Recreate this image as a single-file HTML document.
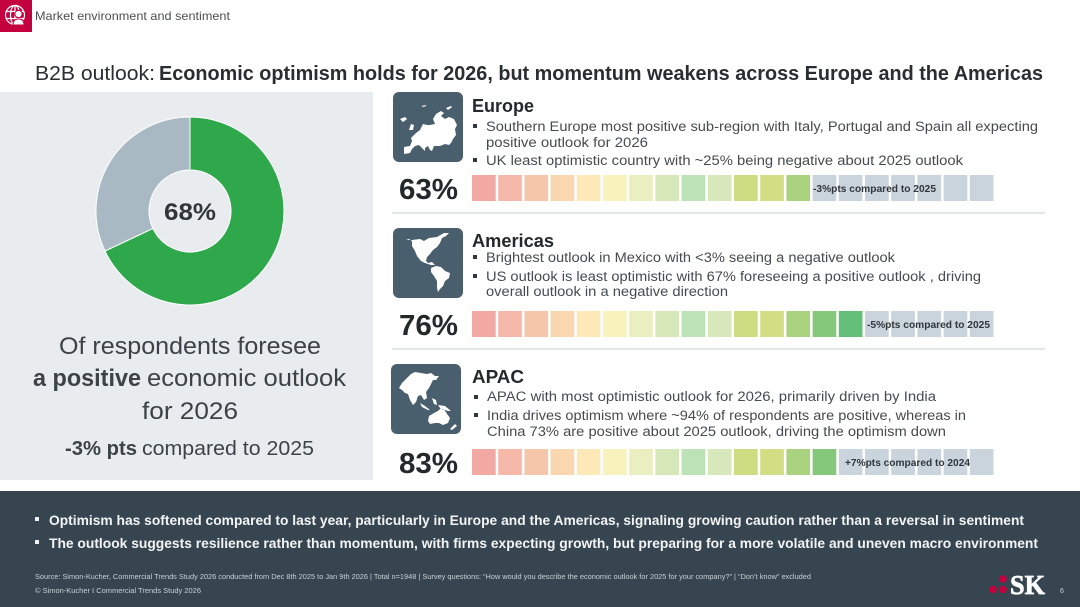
<!DOCTYPE html>
<html lang="en">
<head>
<meta charset="utf-8">
<title>B2B outlook</title>
<style>
html,body{margin:0;padding:0;background:#fff;width:1080px;height:607px;overflow:hidden}
svg{display:block}
text{font-family:"Liberation Sans",sans-serif}
.b{font-weight:700}
.body{font-size:13.5px;fill:#454b50}
.head{font-size:18px;font-weight:700;fill:#23282b}
.pct{font-size:29px;font-weight:700;fill:#23282b}
.lab{font-size:10.5px;font-weight:700;fill:#30373c}
.big{font-size:24px;fill:#3c4347}
.band{font-size:14px;font-weight:700;fill:#f2f4f5}
.fine{font-size:7px;fill:#c9d0d5}
</style>
</head>
<body>
<svg id="slide" width="1080" height="607" viewBox="0 0 1080 607" xmlns="http://www.w3.org/2000/svg">
  <rect width="1080" height="607" fill="#fff"/>

  <g>
    <rect width="32" height="32" fill="#c5003e"/>
    <g fill="none" stroke="#fff" stroke-width="1.2">
      <circle cx="15" cy="15" r="9.5"/>
      <ellipse cx="15" cy="15" rx="4.5" ry="9.5"/>
      <path d="M6 11.5H24M6 18.5H24M15 5.5V24.5"/>
    </g>
    <circle cx="18.500" cy="14" r="3.600" fill="#fff" stroke="#c5003e"/>
    <path d="M13 25Q13 19 18.500 19Q24 19 24 25Z" fill="#fff" stroke="#c5003e"/>
  </g>
  <text x="35" y="20" font-size="12" fill="#4a4f53" textLength="195" lengthAdjust="spacingAndGlyphs">Market environment and sentiment</text>

  <g font-size="20" fill="#2a2e31">
    <text x="35" y="80" textLength="120" lengthAdjust="spacingAndGlyphs">B2B outlook:</text>
    <text class="b" x="159" y="80" textLength="884" lengthAdjust="spacingAndGlyphs">Economic optimism holds for 2026, but momentum weakens across Europe and the Americas</text>
  </g>

  <rect x="0" y="92" width="373" height="388" fill="#e9ecef"/>
  <g id="donut"></g>
  <text id="donut-label" x="190" y="220" font-size="24" font-weight="700" text-anchor="middle" fill="#30363a" textLength="52" lengthAdjust="spacingAndGlyphs"></text>

  <g>
    <text class="big" x="59" y="354" textLength="262" lengthAdjust="spacingAndGlyphs">Of respondents foresee</text>
    <text class="big b" x="33" y="386" textLength="108" lengthAdjust="spacingAndGlyphs">a positive</text>
    <text class="big" x="147" y="386" textLength="199" lengthAdjust="spacingAndGlyphs">economic outlook</text>
    <text class="big" x="142" y="419" textLength="96" lengthAdjust="spacingAndGlyphs">for 2026</text>
    <text class="b" x="65" y="455" font-size="20" fill="#3c4347" textLength="72" lengthAdjust="spacingAndGlyphs">-3% pts</text>
    <text x="142" y="455" font-size="20" fill="#3c4347" textLength="172" lengthAdjust="spacingAndGlyphs">compared to 2025</text>
  </g>

  <!-- Europe -->
  <g>
    <rect x="393" y="92" width="70" height="70" rx="6" fill="#4a5f6d"/>
    <path fill="#fff" d="M404 147l6-1 2-5-1-3 5-5 4-3 3-6 4 1 3 0 5-1-2-5 3-5 5-3 3 2-3 3 4 3 4-2 5 2 3 6-2 4 1 6-3 4-2 4-2 2-4-1-5 2-6 0-2 5-2-1-2-4-3 2 0 3-3-3-3-3-4 1-3 3-2 4-6 1zM409 130l2-6 3 1-1 5zM400 119l5-2 2 2-4 3zM421 106l6-1-3 2zM446 108l5-2 1 1-4 3z"/>
    <text class="head" x="472" y="112" textLength="62" lengthAdjust="spacingAndGlyphs">Europe</text>
    <rect x="473" y="124" width="4" height="4" fill="#30373c"/>
    <text class="body" x="486" y="131" textLength="552" lengthAdjust="spacingAndGlyphs">Southern Europe most positive sub-region with Italy, Portugal and Spain all expecting</text>
    <text class="body" x="486" y="147" textLength="162" lengthAdjust="spacingAndGlyphs">positive outlook for 2026</text>
    <rect x="473" y="158" width="4" height="4" fill="#30373c"/>
    <text class="body" x="486" y="165" textLength="477" lengthAdjust="spacingAndGlyphs">UK least optimistic country with ~25% being negative about 2025 outlook</text>
    <text class="pct" x="399" y="199" textLength="59" lengthAdjust="spacingAndGlyphs">63%</text>
  </g>
  <g id="strip-europe"></g>
  <text class="lab" x="813" y="192" textLength="123" lengthAdjust="spacingAndGlyphs">-3%pts compared to 2025</text>
  <rect x="392" y="212" width="653" height="2" fill="#e3e6e8"/>

  <!-- Americas -->
  <g>
    <rect x="393" y="228" width="70" height="70" rx="6" fill="#4a5f6d"/>
    <path fill="#fff" d="M412 240l8-1 4 2 5-3 8-1 7-4 5 0-3 3-4 2-2 5-3 4-4 3-3 4-3 3-1 4 2 2 4-1 3 3-4 0-3-1-3-1-4-2-4-5-2-5-3-5 0-5-3-2-3 1zM431 268l5-2 5 1 4 4 5 2-1 5-4 3-2 5-3 3-2 3-1-4 0-7-3-5-3-4z"/>
    <text class="head" x="472" y="247" textLength="82" lengthAdjust="spacingAndGlyphs">Americas</text>
    <rect x="473" y="255" width="4" height="4" fill="#30373c"/>
    <text class="body" x="486" y="262" textLength="409" lengthAdjust="spacingAndGlyphs">Brightest outlook in Mexico with &lt;3% seeing a negative outlook</text>
    <rect x="473" y="274" width="4" height="4" fill="#30373c"/>
    <text class="body" x="486" y="281" textLength="495" lengthAdjust="spacingAndGlyphs">US outlook is least optimistic with 67% foreseeing a positive outlook , driving</text>
    <text class="body" x="486" y="296" textLength="242" lengthAdjust="spacingAndGlyphs">overall outlook in a negative direction</text>
    <text class="pct" x="399" y="335" textLength="59" lengthAdjust="spacingAndGlyphs">76%</text>
  </g>
  <g id="strip-americas"></g>
  <text class="lab" x="867" y="328" textLength="123" lengthAdjust="spacingAndGlyphs">-5%pts compared to 2025</text>
  <rect x="392" y="348" width="653" height="2" fill="#e3e6e8"/>

  <!-- APAC -->
  <g>
    <rect x="391" y="364" width="70" height="70" rx="6" fill="#4a5f6d"/>
    <path fill="#fff" d="M402 383l4-4 5-5 4-2 6 1 6 1 4-1 4 3 4 0-3 4-3 0-2 4-2 4-3 4 1 6-3 2-3-5-3 1-2 6-3 3-3-5-2-6-3-1-3-3-3-2zM420 403l5 3 5 4-2 0-6-3zM432 398l4 2 1 5-3-1zM438 405l7 1 6 5-3 0-8-3zM428 421l1-5 5-3 4-2 3-3 2 2 1-1 3 5 3 4-2 5-5 2-4-2-4 0-5 1zM455 424l2 2-5 4-2-1z"/>
    <text class="head" x="472" y="383" textLength="52" lengthAdjust="spacingAndGlyphs">APAC</text>
    <rect x="474" y="395" width="4" height="4" fill="#30373c"/>
    <text class="body" x="487" y="401" textLength="449" lengthAdjust="spacingAndGlyphs">APAC with most optimistic outlook for 2026, primarily driven by India</text>
    <rect x="474" y="413" width="4" height="4" fill="#30373c"/>
    <text class="body" x="487" y="420" textLength="479" lengthAdjust="spacingAndGlyphs">India drives optimism where ~94% of respondents are positive, whereas in</text>
    <text class="body" x="487" y="436" textLength="459" lengthAdjust="spacingAndGlyphs">China 73% are positive about 2025 outlook, driving the optimism down</text>
    <text class="pct" x="399" y="473" textLength="59" lengthAdjust="spacingAndGlyphs">83%</text>
  </g>
  <g id="strip-apac"></g>
  <text class="lab" x="845" y="466" textLength="125" lengthAdjust="spacingAndGlyphs">+7%pts compared to 2024</text>

  <!-- Footer band -->
  <rect x="0" y="491" width="1080" height="116" fill="#36454f"/>
  <g>
    <rect x="35" y="517" width="4" height="4" fill="#f2f4f5"/>
    <text class="band" x="49" y="525" textLength="975" lengthAdjust="spacingAndGlyphs">Optimism has softened compared to last year, particularly in Europe and the Americas, signaling growing caution rather than a reversal in sentiment</text>
    <rect x="35" y="540" width="4" height="4" fill="#f2f4f5"/>
    <text class="band" x="49" y="548" textLength="989" lengthAdjust="spacingAndGlyphs">The outlook suggests resilience rather than momentum, with firms expecting growth, but preparing for a more volatile and uneven macro environment</text>
  </g>
  <text class="fine" x="35" y="579" textLength="776" lengthAdjust="spacingAndGlyphs">Source: Simon-Kucher, Commercial Trends Study 2026 conducted from Dec 8th 2025 to Jan 9th  2026 | Total n=1948 | Survey questions: “How would you describe the economic outlook for 2025 for your company?” | “Don’t know” excluded</text>
  <text class="fine" x="35" y="593" textLength="166" lengthAdjust="spacingAndGlyphs">© Simon-Kucher  I  Commercial Trends Study 2026</text>
  <g>
    <circle cx="1003" cy="579" r="3.800" fill="#c5003e"/>
    <circle cx="993" cy="589.500" r="3.800" fill="#c5003e"/>
    <circle cx="1003" cy="589.500" r="3.800" fill="#c5003e"/>
    <text x="1010" y="594" font-size="27" font-weight="700" fill="#fff" stroke="#fff" stroke-width="0.7" textLength="35" lengthAdjust="spacingAndGlyphs" style="font-family:'Liberation Serif',serif">SK</text>
  </g>
  <text x="1060" y="593" font-size="7" fill="#c9d0d5">6</text>
</svg>

<script>
var donutValues = [68, 32];
var donutColors = ['#2ea84a', '#a9b9c4'];
var europeFilled = 13;
var americasFilled = 15;
var apacFilled = 14;
var cellCount = 20;
var stripColors = ['#f2a8a3', '#f5b8a9', '#f6c6aa', '#fad7af', '#fde9b7', '#f8f3bd', '#e9efc0', '#d6e7ba', '#bde2b8', '#d6e8bc', '#cfdd82', '#d2de84', '#abd27f', '#85c87b', '#63bf78'];
var emptyColor = '#cad4dc';

var NS = 'http://www.w3.org/2000/svg';

function angleOf(fraction) {
  return fraction * 2 * Math.PI - Math.PI / 2;
}

function drawDonut() {
  var cx = 190, cy = 211, outer = 94, inner = 41;
  var total = donutValues[0] + donutValues[1];
  var group = document.getElementById('donut');
  var run = 0;
  donutValues.forEach(function (value, i) {
    var a0 = angleOf(run / total);
    var a1 = angleOf((run + value) / total);
    run += value;
    var large = value / total > 0.5 ? 1 : 0;
    var d = 'M' + (cx + outer * Math.cos(a0)) + ' ' + (cy + outer * Math.sin(a0)) +
      'A' + outer + ' ' + outer + ' 0 ' + large + ' 1 ' + (cx + outer * Math.cos(a1)) + ' ' + (cy + outer * Math.sin(a1)) +
      'L' + (cx + inner * Math.cos(a1)) + ' ' + (cy + inner * Math.sin(a1)) +
      'A' + inner + ' ' + inner + ' 0 ' + large + ' 0 ' + (cx + inner * Math.cos(a0)) + ' ' + (cy + inner * Math.sin(a0)) + 'Z';
    var path = document.createElementNS(NS, 'path');
    path.setAttribute('d', d);
    path.setAttribute('fill', donutColors[i]);
    path.setAttribute('stroke', '#fff');
    path.setAttribute('stroke-width', '1');
    
    
    group.appendChild(path);
  });
  document.getElementById('donut-label').textContent = donutValues[0] + '%';
}

function drawStrip(id, filled, top) {
  var group = document.getElementById(id);
  var left = 472, step = 26.2, width = 23.7, height = 26;
  for (var i = 0; i < cellCount; i++) {
    var cell = document.createElementNS(NS, 'rect');
    cell.setAttribute('x', left + i * step);
    cell.setAttribute('y', top);
    cell.setAttribute('width', width);
    cell.setAttribute('height', height);
    cell.setAttribute('fill', i < filled ? stripColors[i] : emptyColor);
    
    
    group.appendChild(cell);
  }
}

drawDonut();
drawStrip('strip-europe', europeFilled, 175);
drawStrip('strip-americas', americasFilled, 311);
drawStrip('strip-apac', apacFilled, 449);
</script>
</body>
</html>
